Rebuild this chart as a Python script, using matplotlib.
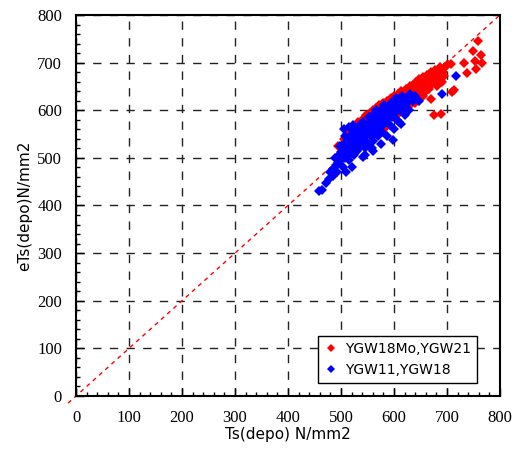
import matplotlib.pyplot as plt

# YGW11, YGW18 (blue)
blue_x = [458, 465, 472, 478, 480, 484, 486, 490, 488, 492, 495, 497, 500, 500, 502, 504,
          505, 507, 508, 510, 512, 513, 515, 516, 518, 520, 520, 522, 524, 525, 527, 528,
          530, 530, 532, 534, 535, 536, 538, 540, 540, 542, 544, 545, 546, 548, 550, 550,
          552, 553, 555, 556, 558, 560, 560, 562, 563, 565, 566, 568, 570, 570, 572, 574,
          575, 577, 578, 580, 581, 583, 585, 586, 588, 590, 592, 594, 595, 597, 600, 602,
          604, 605, 607, 610, 612, 615, 618, 620, 622, 625, 628, 630, 635, 640, 648, 690,
          717, 560, 575, 520, 510, 545, 498, 505, 515, 600, 610, 542, 558, 523, 614, 599]
blue_y = [430, 432, 448, 455, 470, 462, 478, 485, 500, 470, 490, 505, 495, 512, 520, 480,
          530, 500, 545, 515, 505, 525, 540, 495, 510, 530, 550, 518, 505, 540, 560, 525,
          515, 545, 535, 555, 522, 570, 540, 530, 555, 575, 545, 520, 560, 535, 570, 550,
          585, 525, 560, 545, 575, 590, 535, 565, 550, 580, 600, 560, 545, 575, 590, 565,
          600, 555, 585, 570, 610, 595, 580, 545, 605, 590, 570, 615, 600, 585, 610, 595,
          625, 580, 605, 620, 600, 630, 610, 590, 625, 615, 600, 635, 620, 630, 620, 634,
          671, 515, 530, 480, 470, 505, 525, 560, 565, 560, 575, 502, 520, 569, 572, 537]

# YGW18Mo, YGW21 (red)
red_x = [495, 505, 512, 518, 522, 528, 532, 536, 540, 545, 548, 552, 555, 558, 560, 563,
         566, 568, 570, 572, 575, 578, 580, 582, 585, 587, 590, 592, 594, 596, 598, 600,
         602, 604, 606, 608, 610, 612, 614, 616, 618, 620, 622, 624, 626, 628, 630, 632,
         634, 636, 638, 640, 642, 644, 646, 648, 650, 652, 654, 656, 658, 660, 662, 664,
         666, 668, 670, 672, 674, 676, 678, 680, 682, 684, 686, 688, 690, 692, 694, 696,
         675, 689, 669, 709, 713, 707, 733, 738, 755, 753, 767, 764, 750, 758, 700, 640,
         620, 655, 600, 580, 630, 660, 610, 585, 565]
red_y = [525, 540, 550, 560, 545, 565, 575, 560, 580, 570, 590, 580, 595, 575, 600, 585,
         605, 590, 575, 610, 595, 600, 615, 590, 605, 620, 600, 610, 625, 595, 615, 630,
         605, 620, 600, 635, 615, 625, 640, 610, 630, 620, 645, 635, 615, 640, 650, 630,
         645, 625, 655, 640, 660, 635, 650, 665, 645, 655, 670, 640, 660, 650, 675, 660,
         645, 665, 680, 655, 670, 660, 685, 665, 650, 675, 690, 668, 660, 680, 672, 690,
         590, 592, 623, 639, 642, 697, 700, 679, 686, 703, 700, 715, 724, 745, 695, 615,
         600, 630, 585, 575, 610, 640, 595, 565, 560]

ticks = [0, 100, 200, 300, 400, 500, 600, 700, 800]

fig = plt.figure(figsize=(5.26, 4.5), dpi=100)
ax = fig.add_axes([0.1445, 0.12, 0.806, 0.8467])

ax.plot([-15, 800], [-15, 800], color='red', linestyle=(0, (3, 3)), linewidth=1,
        clip_on=False, zorder=2)
ax.plot(red_x, red_y, 'D', color='#ff0000', markersize=5.3, markeredgewidth=0,
        label='YGW18Mo,YGW21', zorder=3)
ax.plot(blue_x, blue_y, 'D', color='#0000ff', markersize=5.3, markeredgewidth=0,
        label='YGW11,YGW18', zorder=4)

ax.set_xlim(0, 800)
ax.set_ylim(0, 800)
ax.set_xticks(ticks)
ax.set_yticks(ticks)
ax.set_xticks(range(0, 801, 20), minor=True)
ax.set_yticks(range(0, 801, 20), minor=True)
ax.tick_params(which='both', direction='in', top=False, right=False)
ax.tick_params(which='major', length=6, width=1, pad=10,
               labelfontfamily='Liberation Serif', labelsize=12)
ax.tick_params(which='minor', length=3, width=1)

ax.grid(True, which='major', color='#222222', linestyle=(0, (6, 6)), linewidth=1)
for s in ax.spines.values():
    s.set_linewidth(1.5)

ax.set_xlabel('Ts(depo) N/mm2', fontsize=11, labelpad=1)
ax.set_ylabel('eTs(depo)N/mm2', fontsize=11, labelpad=4)

leg = ax.legend(loc='lower right', bbox_to_anchor=(0.962, 0.016), fancybox=False,
                edgecolor='black', framealpha=1, fontsize=10, markerscale=0.7,
                handlelength=1, handletextpad=0.5, borderpad=0.45, labelspacing=0.5)
leg.get_frame().set_linewidth(1)

fig.savefig('out.png', dpi=100)
